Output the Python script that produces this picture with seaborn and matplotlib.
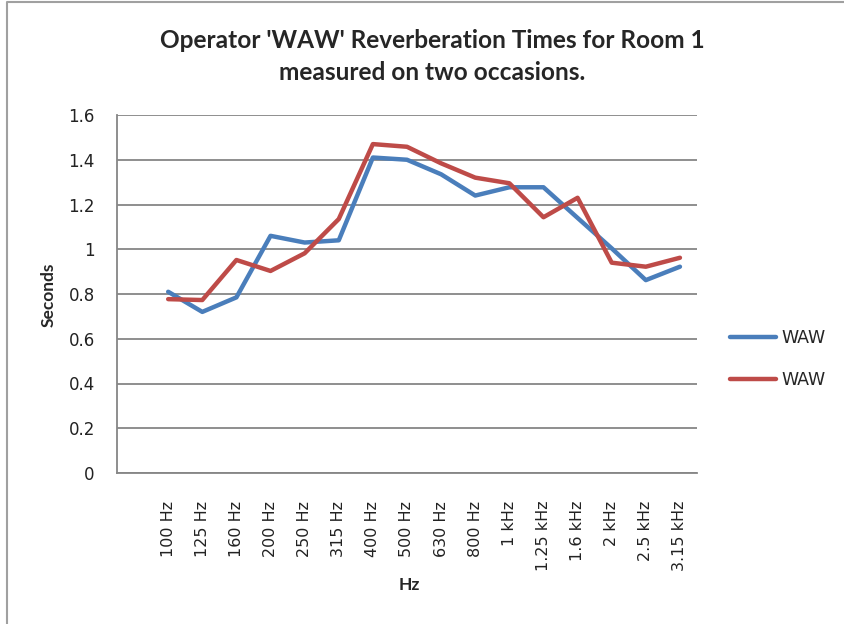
import matplotlib
matplotlib.use("Agg")
import matplotlib.pyplot as plt
from matplotlib.lines import Line2D
import pandas as pd
import seaborn as sns


# Chart data
# ----------
# First category is left blank on purpose (empty slot in the original chart).
bands = ["", "100 Hz", "125 Hz", "160 Hz", "200 Hz", "250 Hz", "315 Hz", "400 Hz",
         "500 Hz", "630 Hz", "800 Hz", "1 kHz", "1.25 kHz", "1.6 kHz", "2 kHz",
         "2.5 kHz", "3.15 kHz"]
first_run = [0.81, 0.72, 0.785, 1.06, 1.03, 1.04, 1.41, 1.40, 1.335, 1.24,
             1.277, 1.277, 1.14, 1.004, 0.862, 0.922]
second_run = [0.777, 0.773, 0.952, 0.903, 0.982, 1.135, 1.47, 1.458, 1.384, 1.32,
              1.295, 1.143, 1.23, 0.94, 0.922, 0.962]
series_names = ["WAW", "WAW"]
y_ticks = [0, 0.2, 0.4, 0.6, 0.8, 1.0, 1.2, 1.4, 1.6]
y_tick_labels = ["0", "0.2", "0.4", "0.6", "0.8", "1", "1.2", "1.4", "1.6"]

blue = "#4a7ebb"
red = "#be4b48"
grid_grey = "#868686"

# Long-form table for seaborn (x = position of the band in the category list)
rows = []
for run_id, values in enumerate([first_run, second_run]):
    for band, v in zip(bands[1:], values):
        rows.append({"pos": bands.index(band), "seconds": v, "run": run_id})
df = pd.DataFrame(rows)

sns.set_style("white")
plt.rcParams["font.family"] = ["DejaVu Sans"]

fig = plt.figure(figsize=(8.45, 6.24), dpi=100)
ax = fig.add_axes([117 / 845, 1 - 473 / 624, (697 - 117) / 845, (473 - 115) / 624])

sns.lineplot(data=df, x="pos", y="seconds", hue="run", palette=[blue, red],
             linewidth=3.2, legend=False, ax=ax, sort=False)

# Axes styling (Excel look)
ax.set_xlim(-0.5, len(bands) - 0.5)
ax.set_ylim(0, 1.6)
ax.set_yticks(y_ticks)
ax.set_yticklabels(y_tick_labels, fontsize=12, color="#222222")
ax.yaxis.grid(True, color=grid_grey, linewidth=1.3)
ax.set_axisbelow(True)
for side in ["top", "right"]:
    ax.spines[side].set_visible(False)
for side in ["left", "bottom"]:
    ax.spines[side].set_color(grid_grey)
    ax.spines[side].set_linewidth(1.3)
ax.tick_params(axis="y", direction="out", length=5, width=1.3, color=grid_grey, pad=11)

ax.set_xticks(range(len(bands)))
ax.set_xticklabels(bands, rotation=90, fontsize=11.5, color="#222222")
ax.set_xticks([i - 0.5 for i in range(len(bands) + 1)], minor=True)
ax.tick_params(axis="x", which="major", length=0, pad=20)
ax.tick_params(axis="x", which="minor", direction="out", length=5, width=1.3, color=grid_grey)

ax.set_xlabel("")
ax.set_ylabel("")
fig.text(49 / 845, 1 - 295 / 624, "Seconds", rotation=90, ha="center", va="center",
         fontsize=12.5, fontweight="bold", family=["Lato", "DejaVu Sans"])
fig.text(409 / 845, 1 - 585 / 624, "Hz", ha="center", va="center",
         fontsize=12.5, fontweight="bold", family=["Lato", "DejaVu Sans"])

fig.text(432 / 845, 1 - 41 / 624, "Operator 'WAW' Reverberation Times for Room 1",
         ha="center", va="center", fontsize=17.6, fontweight="bold",
         family=["Lato", "DejaVu Sans"])
fig.text(432 / 845, 1 - 73 / 624, "measured on two occasions.",
         ha="center", va="center", fontsize=17.6, fontweight="bold",
         family=["Lato", "DejaVu Sans"])

# Legend
handles = [Line2D([], [], color=blue, linewidth=3.2),
           Line2D([], [], color=red, linewidth=3.2)]
fig.legend(handles, series_names, loc="center left",
           bbox_to_anchor=(714 / 845, 1 - 359 / 624), frameon=False,
           fontsize=12.5, handlelength=2.7, handletextpad=0.3, labelspacing=1.4)

# Chart-area border (top and left edges visible)
fig.add_artist(Line2D([7 / 845, 7 / 845, 1.0], [0.0, 1 - 2 / 624, 1 - 2 / 624],
                      transform=fig.transFigure, color="#a0a0a0", linewidth=1.5))

fig.savefig("out.png", dpi=100)
